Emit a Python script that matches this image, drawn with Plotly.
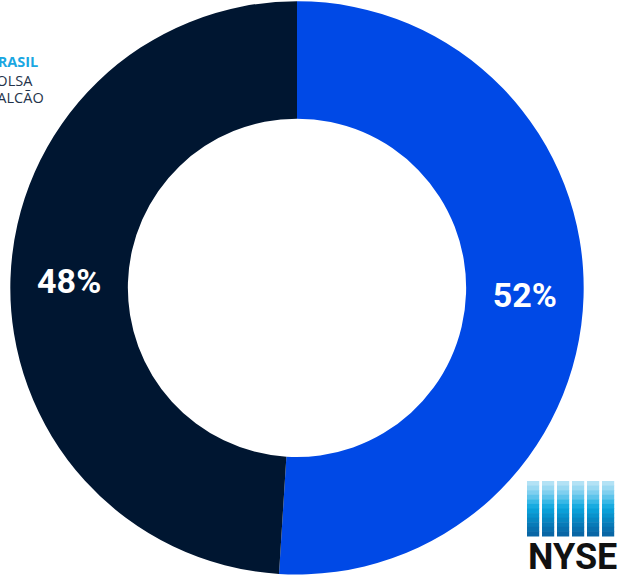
import plotly.graph_objects as go

labels = ["NYSE", "B3"]
values = [51, 49]              # slice sizes as drawn in the picture
pct_labels = ["52%", "48%"]    # labels printed on the slices
colors = ["#0049E6", "#001631"]

W, H = 619, 578

def px(x):
    return x / W

def py(y):
    return 1 - y / H

fig = go.Figure()
fig.add_trace(go.Pie(
    labels=labels,
    values=values,
    text=pct_labels,
    hole=0.59,
    sort=False,
    direction="clockwise",
    rotation=0,
    marker=dict(colors=colors, line=dict(width=0)),
    texttemplate="%{text}",
    textposition="inside",
    insidetextorientation="horizontal",
    textfont=dict(family="Roboto, Arial", size=34, color="white", weight="bold"),
    domain=dict(x=[0, 594 / W], y=[0.006, 0.998]),
    showlegend=False,
    hoverinfo="label+text",
))

shapes = []
# NYSE logo: six gradient bars
grad = ["#B3E2F5", "#9AD9F2", "#7FCFEF", "#5EC4EB", "#38B8E6", "#18ABE0",
        "#0A9FD8", "#0893CD", "#0887C2", "#087BB8", "#0870AE", "#0866A5"]
x0, top, bot = 527, 481, 536
bw, gap = 12.2, 2.8
n = len(grad)
for i in range(6):
    xl = x0 + i * (bw + gap)
    for k, c in enumerate(grad):
        y1 = top + (bot - top) * k / n
        y2 = top + (bot - top) * (k + 1) / n + 0.5
        shapes.append(dict(type="rect", xref="paper", yref="paper",
                           x0=px(xl), x1=px(xl + bw), y0=py(y2), y1=py(y1),
                           fillcolor=c, line=dict(width=0), layer="above"))

annotations = [
    dict(text="NYSE", xref="paper", yref="paper", x=px(572), y=py(557),
         xanchor="center", yanchor="middle", showarrow=False,
         font=dict(family="Roboto, Arial", size=36, color="#111111", weight="bold")),
    dict(text="BRASIL", xref="paper", yref="paper", x=px(40), y=py(62),
         xanchor="right", yanchor="middle", showarrow=False,
         font=dict(family="Open Sans, Arial", size=14.5, color="#1AA7E2", weight="bold")),
    dict(text="BOLSA", xref="paper", yref="paper", x=px(35), y=py(80),
         xanchor="right", yanchor="middle", showarrow=False,
         font=dict(family="Open Sans, Arial", size=14.5, color="#24334A")),
    dict(text="BALCÃO", xref="paper", yref="paper", x=px(46), y=py(98),
         xanchor="right", yanchor="middle", showarrow=False,
         font=dict(family="Open Sans, Arial", size=14.5, color="#24334A")),
]

fig.update_layout(
    width=W, height=H,
    margin=dict(l=0, r=0, t=0, b=0),
    paper_bgcolor="white",
    plot_bgcolor="white",
    shapes=shapes,
    annotations=annotations,
)

fig.write_html("out.html", config={"displayModeBar": False},
               post_script="document.body.style.margin='0';")
